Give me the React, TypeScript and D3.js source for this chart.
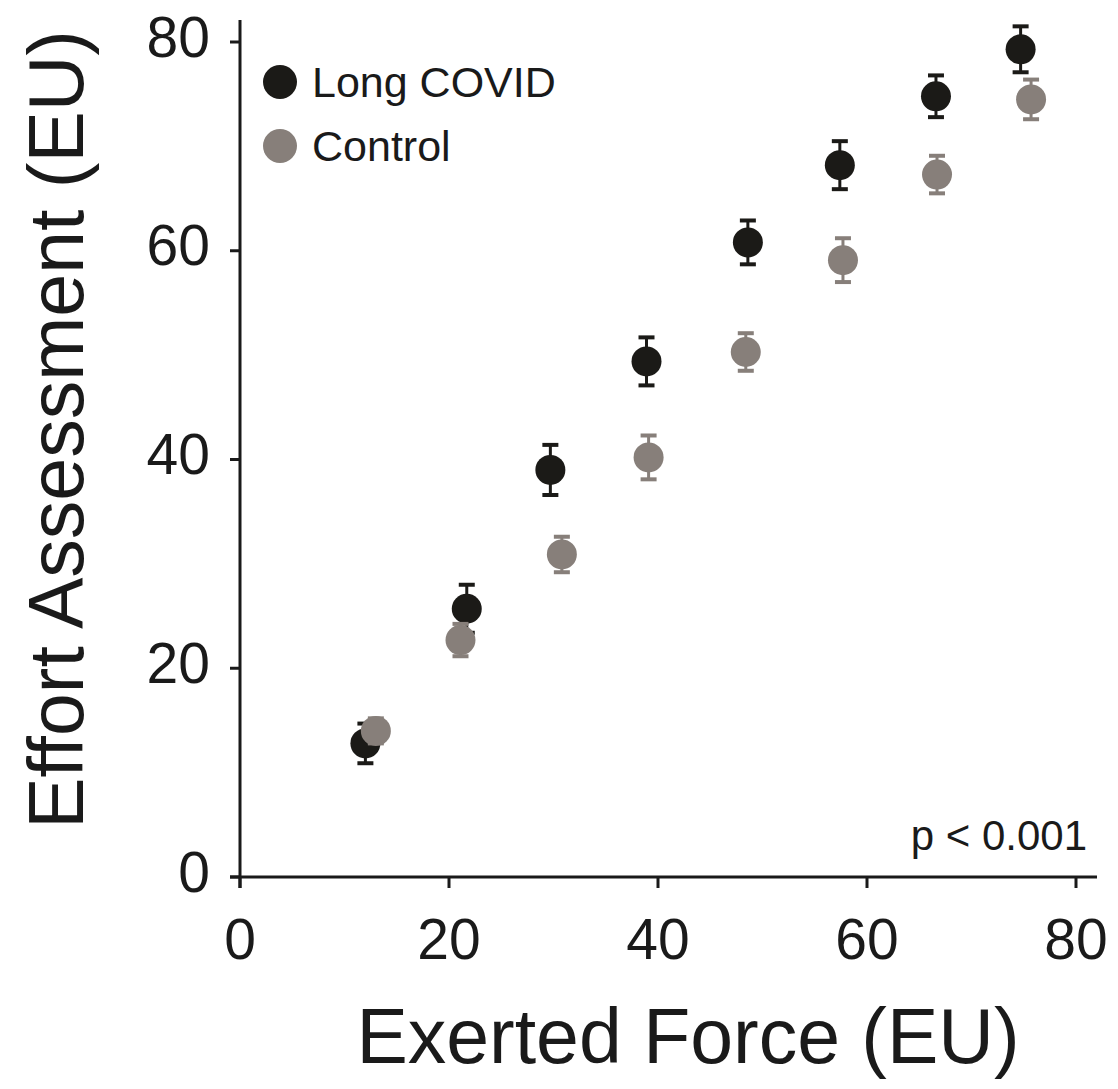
import React from "react";
import * as d3 from "d3";

const forceLong = [12.0, 21.7, 29.7, 38.9, 48.6, 57.4, 66.6, 74.7];
const effortLong = [12.8, 25.7, 39.0, 49.4, 60.8, 68.2, 74.8, 79.3];
const errLong = [1.9, 2.3, 2.4, 2.3, 2.1, 2.3, 2.0, 2.2];

const forceControl = [13.0, 21.1, 30.8, 39.1, 48.4, 57.7, 66.7, 75.7];
const effortControl = [14.0, 22.7, 30.9, 40.2, 50.3, 59.1, 67.3, 74.5];
const errControl = [1.2, 1.55, 1.7, 2.1, 1.8, 2.1, 1.8, 1.9];

const xTicks = [0, 20, 40, 60, 80];
const yTicks = [0, 20, 40, 60, 80];

const groups = [
  { name: "Long COVID", color: "#1b1a17", x: forceLong, y: effortLong, err: errLong },
  { name: "Control", color: "#877f7a", x: forceControl, y: effortControl, err: errControl },
];

const W = 1118;
const H = 1089;
const font = "'Liberation Sans', Arial, sans-serif";

export default function App() {
  const x = d3.scaleLinear().domain([0, 80]).range([240, 1076]);
  const y = d3.scaleLinear().domain([0, 80]).range([877, 42]);
  const axisColor = "#1a1a1a";

  return (
    <svg
      width={W}
      height={H}
      style={{ position: "absolute", left: 0, top: 0, background: "#fff" }}
    >
      {/* axes */}
      <line x1={240} x2={240} y1={20} y2={888} stroke={axisColor} strokeWidth={3} />
      <line x1={230} x2={1097} y1={877} y2={877} stroke={axisColor} strokeWidth={3} />
      {yTicks.map((t) => (
        <g key={"y" + t}>
          <line x1={230} x2={240} y1={y(t)} y2={y(t)} stroke={axisColor} strokeWidth={3} />
          <text
            x={210}
            y={y(t) - 6}
            dy="0.36em"
            textAnchor="end"
            fontFamily={font}
            fontSize={57}
            fill="#1a1a1a"
          >
            {t}
          </text>
        </g>
      ))}
      {xTicks.map((t) => (
        <g key={"x" + t}>
          <line x1={x(t)} x2={x(t)} y1={877} y2={888} stroke={axisColor} strokeWidth={3} />
          <text
            x={x(t)}
            y={959}
            textAnchor="middle"
            fontFamily={font}
            fontSize={57}
            fill="#1a1a1a"
          >
            {t}
          </text>
        </g>
      ))}

      {/* titles */}
      <text
        x={688}
        y={1063}
        textAnchor="middle"
        fontFamily={font}
        fontSize={77}
        fill="#1a1a1a"
      >
        Exerted Force (EU)
      </text>
      <text
        transform="translate(83, 30) rotate(-90)"
        textAnchor="end"
        fontFamily={font}
        fontSize={77}
        fill="#1a1a1a"
      >
        Effort Assessment (EU)
      </text>

      {/* data */}
      {groups.map((g) => (
        <g key={g.name}>
          {g.x.map((xv, i) => {
            const cx = x(xv);
            const top = y(g.y[i] + g.err[i]);
            const bot = y(g.y[i] - g.err[i]);
            return (
              <g key={i}>
                <line x1={cx} x2={cx} y1={top} y2={bot} stroke={g.color} strokeWidth={3} />
                <line x1={cx - 8} x2={cx + 8} y1={top} y2={top} stroke={g.color} strokeWidth={4} />
                <line x1={cx - 8} x2={cx + 8} y1={bot} y2={bot} stroke={g.color} strokeWidth={4} />
                <circle cx={cx} cy={y(g.y[i])} r={15} fill={g.color} />
              </g>
            );
          })}
        </g>
      ))}

      {/* legend */}
      {groups.map((g, i) => (
        <g key={"leg" + g.name} transform={`translate(280, ${82 + i * 64})`}>
          <circle r={17} fill={g.color} />
          <text x={32} y={15} fontFamily={font} fontSize={43} fill="#1a1a1a">
            {g.name}
          </text>
        </g>
      ))}

      <text
        x={1087}
        y={850}
        textAnchor="end"
        fontFamily={font}
        fontSize={42}
        fill="#1a1a1a"
      >
        p &lt; 0.001
      </text>
    </svg>
  );
}
